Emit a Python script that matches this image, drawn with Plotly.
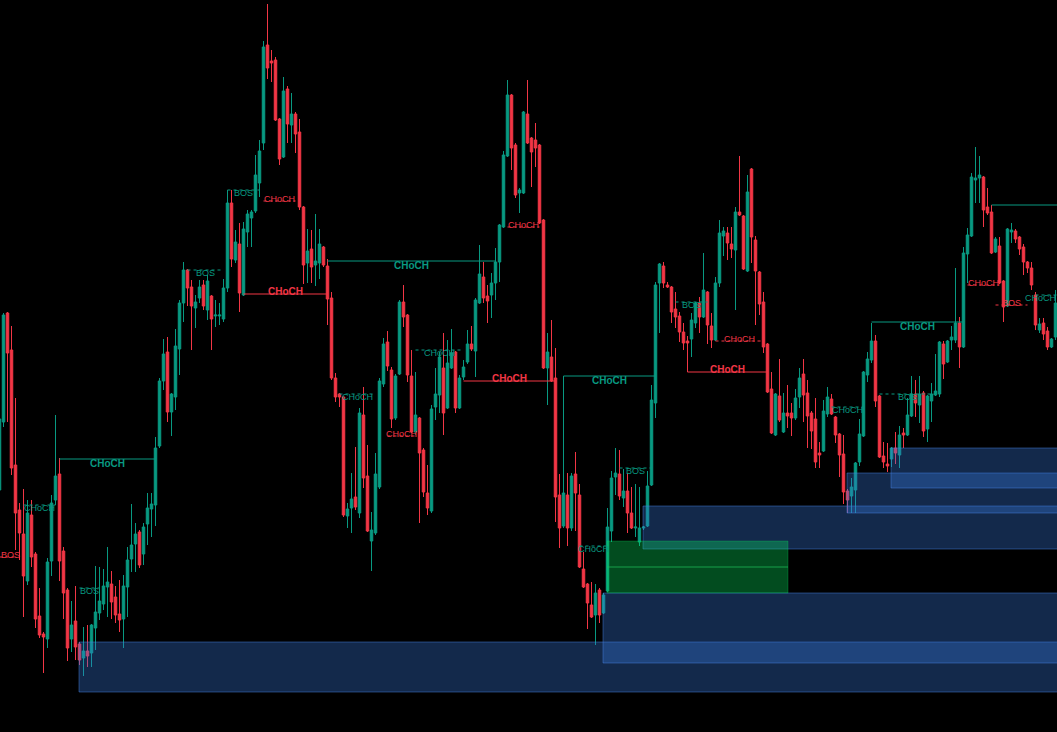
import plotly.graph_objects as go

GREEN = "#089981"
RED = "#F23645"

# ---------------- OHLC data (bar index 0..264) ----------------
opens = [
    242, 310, 419, 382, 267, 222, 198, 151, 217, 178,
    116, 98, 93, 171, 232, 258, 181, 142, 93, 111,
    88, 74, 81, 79, 104, 119, 128, 145, 148, 135,
    118, 113, 145, 173, 188, 200, 178, 208, 223, 227,
    286, 351, 380, 320, 335, 383, 429, 462, 445, 424,
    434, 447, 422, 436, 416, 416, 413, 444, 529, 472,
    488, 437, 500, 514, 521, 549, 589, 687, 671, 672,
    613, 575, 643, 607, 618, 600, 525, 469, 483, 467,
    469, 485, 466, 434, 354, 338, 335, 216, 224, 235,
    219, 317, 256, 191, 199, 245, 348, 390, 362, 314,
    358, 430, 417, 356, 300, 314, 282, 239, 221, 325,
    337, 364, 324, 364, 380, 324, 355, 370, 388, 381,
    429, 455, 436, 437, 449, 470, 505, 576, 637, 587,
    539, 539, 618, 594, 592, 587, 512, 364, 375, 354,
    237, 206, 237, 204, 258, 237, 163, 148, 127, 117,
    142, 119, 141, 201, 255, 258, 234, 241, 219, 204,
    190, 204, 206, 247, 329, 449, 466, 447, 445, 423,
    416, 400, 391, 393, 409, 429, 415, 440, 406, 392,
    449, 496, 499, 488, 482, 520, 516, 461, 563, 492,
    460, 430, 388, 343, 297, 336, 300, 319, 319, 314,
    335, 358, 339, 319, 313, 279, 281, 318, 333, 315,
    298, 278, 241, 236, 242, 270, 296, 357, 372, 391,
    336, 276, 268, 273, 284, 277, 299, 297, 316, 338,
    327, 339, 303, 331, 337, 338, 388, 370, 392, 392,
    409, 385, 478, 496, 552, 554, 555, 525, 520, 480,
    486, 451, 426, 500, 501, 495, 485, 470, 464, 437,
    402, 409, 401, 385, 395,
]
highs = [
    315, 419, 420, 406, 334, 229, 243, 232, 232, 180,
    144, 100, 174, 237, 317, 274, 185, 144, 131, 146,
    90, 105, 107, 108, 166, 165, 163, 185, 161, 146,
    152, 157, 185, 228, 209, 202, 209, 239, 239, 295,
    354, 393, 395, 339, 403, 432, 470, 463, 452, 437,
    452, 452, 457, 437, 432, 429, 453, 542, 542, 502,
    509, 510, 522, 522, 577, 592, 691, 728, 682, 675,
    614, 655, 646, 639, 620, 613, 526, 503, 502, 518,
    503, 486, 473, 440, 359, 339, 336, 229, 259, 285,
    324, 345, 287, 220, 279, 354, 394, 401, 365, 358,
    432, 447, 418, 382, 360, 315, 284, 267, 327, 364,
    380, 399, 392, 403, 381, 357, 372, 402, 406, 434,
    487, 470, 447, 459, 484, 508, 581, 652, 638, 589,
    544, 621, 652, 595, 609, 588, 513, 399, 412, 384,
    258, 356, 259, 259, 280, 248, 180, 149, 150, 148,
    144, 139, 224, 261, 284, 282, 263, 259, 245, 248,
    245, 206, 261, 347, 450, 469, 470, 450, 446, 440,
    420, 409, 396, 419, 430, 435, 479, 441, 419, 455,
    512, 505, 505, 505, 525, 576, 517, 557, 564, 496,
    461, 440, 389, 360, 339, 373, 339, 347, 329, 343,
    364, 373, 352, 321, 334, 290, 332, 345, 338, 316,
    299, 297, 243, 254, 270, 313, 361, 380, 409, 397,
    337, 290, 289, 285, 300, 306, 304, 334, 356, 352,
    356, 341, 337, 349, 378, 391, 391, 392, 406, 464,
    415, 485, 504, 559, 585, 576, 556, 544, 527, 495,
    495, 452, 504, 509, 503, 496, 488, 471, 470, 440,
    414, 414, 405, 394, 442,
]
lows = [
    237, 305, 310, 257, 182, 172, 115, 147, 165, 104,
    94, 59, 84, 156, 227, 151, 113, 71, 80, 72,
    67, 56, 65, 65, 82, 112, 122, 115, 113, 109,
    100, 84, 115, 160, 160, 164, 167, 187, 195, 206,
    284, 342, 310, 296, 322, 357, 410, 426, 382, 404,
    429, 422, 412, 382, 405, 407, 410, 440, 465, 469,
    420, 436, 485, 485, 519, 535, 582, 653, 650, 611,
    567, 574, 589, 589, 579, 522, 448, 449, 449, 446,
    453, 465, 407, 352, 330, 325, 215, 204, 199, 222,
    214, 244, 200, 161, 197, 243, 345, 361, 304, 312,
    357, 405, 350, 299, 297, 209, 235, 217, 219, 312,
    319, 297, 323, 363, 319, 323, 352, 368, 381, 355,
    428, 429, 409, 414, 432, 450, 504, 575, 562, 534,
    519, 538, 588, 545, 565, 508, 363, 327, 350, 210,
    184, 204, 186, 201, 201, 164, 144, 103, 114, 87,
    109, 118, 140, 190, 237, 232, 225, 199, 203, 195,
    186, 202, 205, 246, 314, 399, 444, 444, 409, 404,
    390, 382, 360, 375, 404, 399, 414, 388, 384, 391,
    445, 476, 472, 474, 422, 516, 462, 460, 469, 407,
    417, 379, 339, 298, 296, 310, 299, 304, 296, 312,
    324, 310, 284, 283, 264, 264, 280, 315, 317, 289,
    255, 228, 219, 219, 219, 266, 295, 350, 369, 325,
    274, 264, 260, 265, 268, 264, 284, 296, 315, 315,
    309, 295, 290, 310, 336, 335, 353, 369, 382, 389,
    364, 384, 449, 495, 529, 529, 505, 517, 478, 479,
    448, 410, 425, 489, 489, 477, 457, 459, 442, 402,
    399, 392, 382, 384, 392,
]
closes = [
    313, 417, 379, 264, 219, 199, 156, 219, 175, 113,
    97, 95, 170, 229, 256, 171, 139, 84, 107, 85,
    72, 81, 76, 107, 120, 131, 146, 150, 130, 117,
    112, 146, 172, 187, 198, 167, 205, 224, 228, 284,
    351, 378, 320, 338, 386, 429, 462, 444, 426, 430,
    445, 426, 451, 413, 417, 417, 444, 529, 473, 490,
    439, 503, 518, 520, 557, 581, 685, 664, 669, 612,
    573, 641, 608, 618, 598, 525, 467, 481, 465, 471,
    488, 467, 433, 354, 335, 335, 217, 223, 233, 225,
    319, 254, 201, 202, 258, 351, 388, 366, 313, 356,
    430, 415, 357, 300, 317, 279, 240, 224, 323, 338,
    375, 319, 369, 379, 324, 354, 365, 388, 383, 432,
    458, 434, 431, 449, 470, 507, 577, 637, 584, 537,
    542, 620, 589, 580, 584, 509, 364, 380, 351, 235,
    204, 239, 204, 256, 239, 165, 145, 129, 115, 139,
    117, 137, 205, 254, 259, 236, 241, 219, 204, 205,
    204, 205, 246, 332, 447, 468, 449, 445, 420, 415,
    400, 389, 389, 412, 429, 415, 442, 407, 392, 449,
    499, 501, 489, 483, 520, 517, 463, 540, 495, 461,
    428, 385, 340, 299, 338, 312, 319, 316, 314, 334,
    354, 337, 316, 301, 270, 277, 321, 335, 318, 297,
    277, 240, 232, 245, 269, 298, 360, 373, 391, 331,
    275, 270, 266, 284, 279, 297, 297, 317, 338, 329,
    338, 301, 336, 338, 341, 390, 368, 391, 395, 409,
    385, 479, 497, 555, 554, 557, 522, 519, 479, 493,
    449, 425, 503, 502, 493, 483, 470, 464, 447, 407,
    408, 398, 385, 393, 429,
]
bars = list(range(len(opens)))

# ---------------- swing structure (solid lines) ----------------
swing_level = [273, 438, 471, 351, 356, 360, 410, 527]
swing_from = [15, 61, 82, 116, 141, 172, 218, 248]
swing_to = [39, 82, 124, 139, 164, 192, 241, 275]
swing_bull = [True, False, True, False, True, False, True, True]
swing_label = ["CHoCH", "CHoCH", "CHoCH", "CHoCH", "CHoCH", "CHoCH", "CHoCH", ""]

# ---------------- internal structure (dotted lines) ----------------
int_level = [462, 542, 531, 338, 382, 296, 227, 175, 144, 505,
             186, 264, 430, 391, 325, 338, 447, 427, 437]
int_from = [47, 57, 66, 85, 104, 97, 6, 0, 20, 127,
            145, 155, 169, 179, 208, 220, 242, 249, 259]
int_to = [56, 65, 74, 94, 116, 104, 14, 4, 25, 135,
          152, 163, 177, 191, 216, 234, 250, 257, 267]
int_bull = [True, True, False, True, True, False, True, False, True, False,
            True, True, True, False, True, True, False, False, True]
int_label = ["BOS", "BOS", "CHoCH", "CHoCH", "CHoCH", "CHoCH", "CHoCH", "BOS", "BOS", "CHoCH",
             "CHoCH", "BOS", "BOS", "CHoCH", "CHoCH", "BOS", "CHoCH", "BOS", "CHoCH"]

# ---------------- order blocks ----------------
ob_from = [20, 151, 161, 212, 223]
ob_top = [90, 139, 226, 259, 284]
ob_bottom = [40, 69, 183, 219, 244]

# ---------------- fair value gap ----------------
fvg_from, fvg_to = 152, 197
fvg_top, fvg_mid, fvg_bottom = 191, 165, 139

X_MIN, X_MAX = 0.125, 264.375

fig = go.Figure()
fig.add_trace(go.Candlestick(
    x=bars, open=opens, high=highs, low=lows, close=closes,
    increasing=dict(line=dict(color=GREEN, width=1), fillcolor=GREEN),
    decreasing=dict(line=dict(color=RED, width=1), fillcolor=RED),
    whiskerwidth=0, hoverinfo="skip", showlegend=False,
))

shapes = []
for x0, top, bot in zip(ob_from, ob_top, ob_bottom):
    shapes.append(dict(type="rect", xref="x", yref="y", x0=x0 - 0.125, x1=280,
                       y0=bot, y1=top, layer="above",
                       fillcolor="rgba(56,120,220,0.34)",
                       line=dict(color="rgba(70,135,230,0.45)", width=1)))
shapes.append(dict(type="rect", xref="x", yref="y", x0=fvg_from - 0.125, x1=fvg_to + 0.125,
                   y0=fvg_bottom, y1=fvg_top, layer="above",
                   fillcolor="rgba(6,230,94,0.33)",
                   line=dict(color="rgba(6,230,94,0.25)", width=1)))
shapes.append(dict(type="line", xref="x", yref="y", x0=fvg_from - 0.125, x1=fvg_to + 0.125,
                   y0=fvg_mid, y1=fvg_mid, layer="above",
                   line=dict(color="rgba(30,190,90,0.75)", width=1)))

annotations = []


def label_pos(center, text, size):
    # keep labels fully inside the plotting window
    half = len(text) * size * 0.62 / 2 / 4.0  # approx half width in bar units
    if center - half < X_MIN:
        return X_MIN, "left"
    if center + half > X_MAX:
        return X_MAX, "right"
    return center, "center"


for lv, a, b, bull, lab in zip(swing_level, swing_from, swing_to, swing_bull, swing_label):
    col = GREEN if bull else RED
    shapes.append(dict(type="line", xref="x", yref="y", x0=a, x1=b, y0=lv, y1=lv,
                       layer="above", line=dict(color=col, width=1)))
    if lab:
        xc, anc = label_pos((a + b) / 2, lab, 10)
        annotations.append(dict(x=xc, y=lv, xref="x", yref="y", text=lab,
                                showarrow=False, yanchor="middle", xanchor=anc,
                                yshift=-4 if bull else 3, borderpad=0,
                                font=dict(family="Liberation Sans", size=10, color=col,
                                          weight="bold")))

for lv, a, b, bull, lab in zip(int_level, int_from, int_to, int_bull, int_label):
    col = GREEN if bull else RED
    shapes.append(dict(type="line", xref="x", yref="y", x0=a, x1=b, y0=lv, y1=lv,
                       layer="above", line=dict(color=col, width=1, dash="dot")))
    xc, anc = label_pos((a + b) / 2, lab, 9)
    annotations.append(dict(x=xc, y=lv, xref="x", yref="y", text=lab,
                            showarrow=False, yanchor="middle", xanchor=anc,
                            yshift=-2.5 if bull else 2, borderpad=0,
                            font=dict(family="Liberation Sans", size=9, color=col)))

fig.update_layout(
    width=1057, height=732,
    margin=dict(l=0, r=0, t=0, b=0, pad=0),
    paper_bgcolor="#000000", plot_bgcolor="#000000",
    boxgap=0.375, boxgroupgap=0,
    shapes=shapes, annotations=annotations,
    hovermode=False, showlegend=False,
    xaxis=dict(range=[X_MIN, X_MAX], visible=False, showgrid=False, zeroline=False,
               rangeslider=dict(visible=False), fixedrange=True),
    yaxis=dict(range=[0, 732], visible=False, showgrid=False, zeroline=False, fixedrange=True),
)

fig.write_html(
    "out.html",
    config={"displayModeBar": False},
    post_script="document.body.style.margin='0';document.body.style.padding='0';"
                "document.body.style.background='#000';document.body.style.overflow='hidden';",
)
